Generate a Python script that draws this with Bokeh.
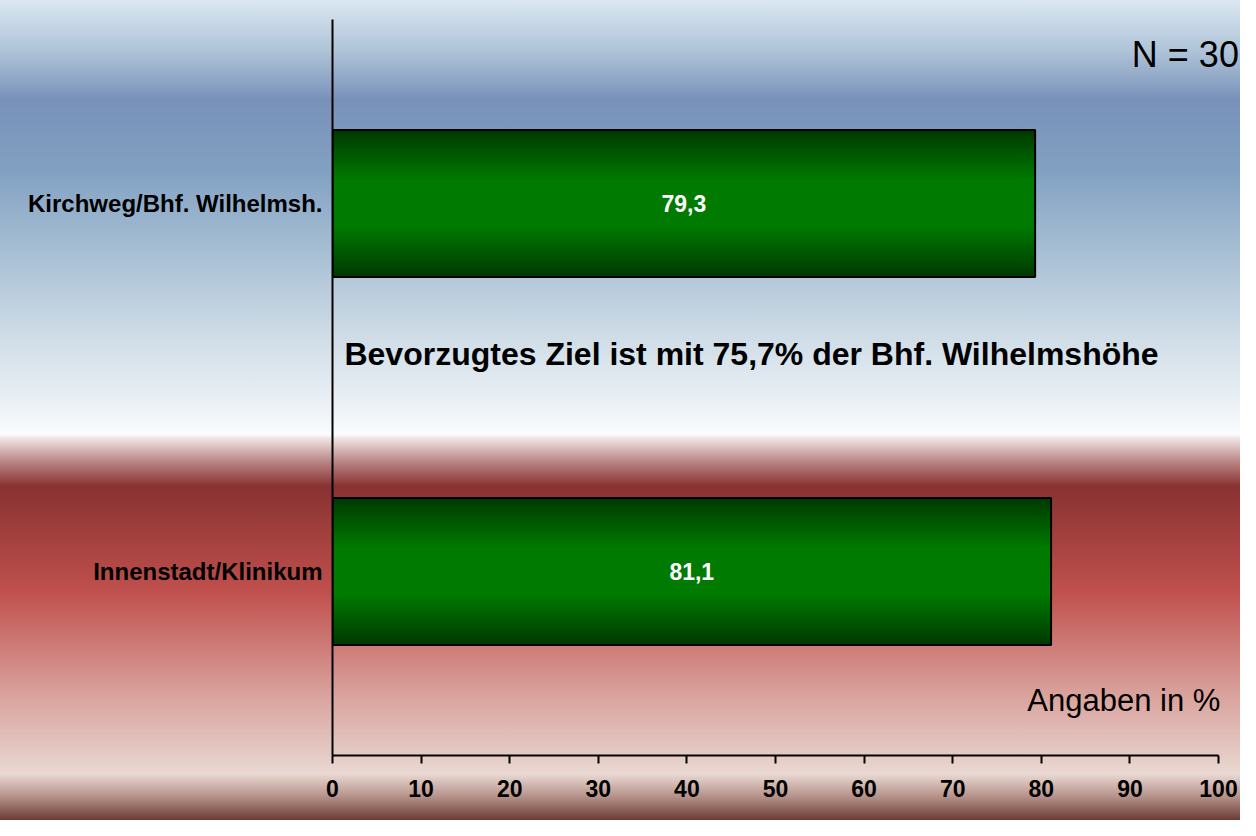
from bokeh.plotting import figure
from bokeh.models import FactorRange, Range1d, Label, ColumnDataSource, FixedTicker
from bokeh.core.properties import value
from bokeh.embed import file_html
from bokeh.resources import INLINE

# ---- data ----
categories = ["Kirchweg/Bhf. Wilhelmsh.", "Innenstadt/Klinikum"]
values = [79.3, 81.1]
value_labels = ["79,3", "81,1"]
x_ticks = [0, 10, 20, 30, 40, 50, 60, 70, 80, 90, 100]
n_text = "N = 30"
headline = "Bevorzugtes Ziel ist mit 75,7% der Bhf. Wilhelmshöhe"
unit_note = "Angaben in %"

FONT = "Liberation Sans"

p = figure(
    width=1240, height=820,
    y_range=FactorRange(factors=categories[::-1]),
    x_range=Range1d(0, 102.48),
    output_backend="svg", toolbar_location=None,
    min_border_left=332, min_border_right=0,
    min_border_top=19, min_border_bottom=65,
)

src = ColumnDataSource(dict(cat=categories, val=values, lab=value_labels,
                            mid=[v / 2 for v in values]))

# bar with vertical green gradient built from stacked layers
BAR_H = 0.40
n_layers = 16
dark = (0, 58, 0)
bright = (0, 122, 0)
p.hbar(y="cat", right="val", left=0, height=BAR_H, source=src,
       fill_color="#003a00", line_color=None)
for i in range(1, n_layers):
    t = i / (n_layers - 1)
    h = BAR_H * (1 - 0.66 * t)
    c = tuple(int(round(dark[k] + (bright[k] - dark[k]) * t)) for k in range(3))
    p.hbar(y="cat", right="val", left=0, height=h, source=src,
           fill_color="#%02x%02x%02x" % c, line_color=None)
p.hbar(y="cat", right="val", left=0, height=BAR_H, source=src,
       fill_alpha=0, line_color="black", line_width=2)

p.text(x="mid", y="cat", text="lab", source=src, text_color="white",
       text_font=value(FONT), text_font_style="bold", text_font_size="23px",
       text_align="center", text_baseline="middle")

# axes
p.xaxis.ticker = FixedTicker(ticks=x_ticks)
p.xaxis.bounds = (0, 100)
p.xaxis.axis_line_width = 2
p.xaxis.major_tick_line_width = 2
p.xaxis.major_tick_out = 8
p.xaxis.major_tick_in = 0
p.xaxis.minor_tick_line_color = None
p.xaxis.major_label_text_font = FONT
p.xaxis.major_label_text_font_style = "bold"
p.xaxis.major_label_text_font_size = "23px"
p.xaxis.major_label_text_color = "black"
p.xaxis.major_label_standoff = 16

p.yaxis.axis_line_width = 2
p.yaxis.major_tick_line_color = None
p.yaxis.major_tick_out = 0
p.yaxis.major_tick_in = 0
p.yaxis.minor_tick_line_color = None
p.yaxis.major_label_text_font = FONT
p.yaxis.major_label_text_font_style = "bold"
p.yaxis.major_label_text_font_size = "24px"
p.yaxis.major_label_text_color = "black"
p.yaxis.major_label_standoff = 10

p.grid.visible = False
p.outline_line_color = None
p.background_fill_alpha = 0
p.border_fill_alpha = 0

p.styles = {
    "background-image": (
        "linear-gradient(to bottom, "
        "#dbe7f2 0%, #aec3d8 6.3%, #7891b9 12.2%, #82a1c2 21%, #a7bfd4 30.7%, "
        "#cddbe6 40.5%, #e6edf3 47.8%, #fafcfd 53%, #f2e6e6 53.4%, #b98585 56.3%, "
        "#883231 59.3%, #c0504d 72.2%, #d9a09b 84.4%, #e9d8d2 94.4%, "
        "#b8968e 97%, #6b3c35 100%)"
    )
}

# annotations
p.add_layout(Label(x=102.3, y=1.905, text=n_text, text_align="right",
                   text_baseline="middle", text_font=FONT,
                   text_font_size="36px", text_color="black"))
p.add_layout(Label(x=1.35, y=1.09, text=headline, text_align="left",
                   text_baseline="middle", text_font=FONT, text_font_style="bold",
                   text_font_size="32px", text_color="black"))
p.add_layout(Label(x=100.2, y=0.15, text=unit_note, text_align="right",
                   text_baseline="middle", text_font=FONT,
                   text_font_size="31px", text_color="black"))

open("out.html", "w").write(file_html(p, INLINE))
